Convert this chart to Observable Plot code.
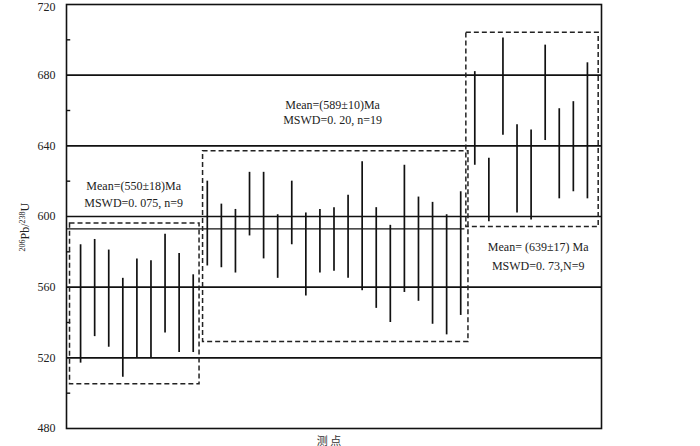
<!DOCTYPE html>
<html>
<head>
<meta charset="utf-8">
<script src="https://cdn.jsdelivr.net/npm/d3@7"></script>
<script src="https://cdn.jsdelivr.net/npm/@observablehq/plot@0.6"></script>
<style>
  html, body { margin: 0; padding: 0; background: #fff; }
  #chart { width: 700px; height: 446px; }
</style>
</head>
<body>
<div id="chart"></div>
<script>
// Analysis spots (1..37), grouped 9 / 19 / 9
const lows  = [517,532,526,509,520,520,534,523,523,
               572,571,568,589,576,565,584,555,568,569,565,558,548,540,557,552,539,533,544,
               629,597,646,602,598,643,610,614,610];
const highs = [584,587,581,565,576,575,590,579,567,
               620,607,604,625,625,601,620,602,604,605,612,631,605,595,629,611,608,601,614,
               682,633,701,652,649,697,661,665,687];

// y axis ticks
const majorTicks = [480, 520, 560, 600, 640, 680, 720];
const gridLines = [520, 560, 600, 640, 680];
const minorTicks = [500, 540, 580, 620, 660, 700];

// dashed group boxes
const boxX1 = [0.25, 9.7, 28.4];
const boxX2 = [9.45, 28.55, 37.8];
const boxY1 = [505, 529, 594];
const boxY2 = [596, 637, 704];

// line at ~593
const meanLineY = [593];
const meanLineX2 = 28.3;

// annotations
const annoText = ["Mean=(550±18)Ma", "MSWD=0. 075, n=9",
                  "Mean=(589±10)Ma", "MSWD=0. 20, n=19",
                  "Mean= (639±17) Ma", "MSWD=0. 73,N=9"];
const annoX = [4.77, 4.77, 18.9, 18.9, 33.5, 33.5];
const annoY = [617.3, 607.8, 663, 654.5, 582.5, 572];

const yLabelParts = ["206", "Pb/", "238", "U"];
const xLabel = "测 点";

const bars = lows.map((lo, k) => ({i: k + 1, lo, hi: highs[k]}));
const boxes = boxX1.map((x1, k) => ({x1, x2: boxX2[k], y1: boxY1[k], y2: boxY2[k]}));
const annos = annoText.map((t, k) => ({t, x: annoX[k], y: annoY[k]}));
const tickData = majorTicks.map(v => ({v, dy: v === 720 ? 3 : 0}));

const serif = "'Liberation Serif', 'Times New Roman', serif";

const chart = Plot.plot({
  width: 700,
  height: 446,
  marginLeft: 66,
  marginRight: 99,
  marginTop: 4,
  marginBottom: 18,
  style: {fontFamily: serif, fontSize: "12px", color: "#222", background: "#fff"},
  x: {domain: [0, 38], axis: null},
  y: {domain: [480, 720], axis: null},
  marks: [
    Plot.ruleY(gridLines, {stroke: "#111", strokeWidth: 1.6}),
    Plot.ruleY(meanLineY, {x1: 0, x2: meanLineX2, stroke: "#111", strokeWidth: 1.4}),
    Plot.ruleY(minorTicks, {x1: 0, x2: 0.3, stroke: "#111", strokeWidth: 1.4}),
    Plot.ruleX(bars, {x: "i", y1: "lo", y2: "hi", stroke: "#111", strokeWidth: 1.7}),
    Plot.rect(boxes, {x1: "x1", x2: "x2", y1: "y1", y2: "y2", fill: "none",
      stroke: "#222", strokeWidth: 1.5, strokeDasharray: "5,3"}),
    Plot.frame({stroke: "#111", strokeWidth: 1.6}),
    Plot.text(tickData.filter(d => d.dy === 0), {x: 0, y: "v", text: d => String(d.v), dx: -11,
      textAnchor: "end", fontSize: 12, fontFamily: serif, fill: "#222"}),
    Plot.text(tickData.filter(d => d.dy !== 0), {x: 0, y: "v", text: d => String(d.v), dx: -11, dy: 3,
      textAnchor: "end", fontSize: 12, fontFamily: serif, fill: "#222"}),
    Plot.text(annos, {x: "x", y: "y", text: "t", fontSize: 12, fontFamily: serif, fill: "#222"}),
    Plot.text([yLabelParts.join("")], {x: 0, y: 594, dx: -41, rotate: -90, fontSize: 12,
      fontFamily: serif, fill: "#222", className: "ylab"}),
    Plot.text([xLabel], {frameAnchor: "bottom", dy: 16, dx: -5, fontSize: 11,
      fontFamily: "'Noto Sans CJK SC', sans-serif", fill: "#333"})
  ]
});

// superscript isotope numbers in the y label
const t = d3.select(chart).select(".ylab text");
t.text(null);
t.append("tspan").attr("font-size", 8).attr("dy", -4).text(yLabelParts[0]);
t.append("tspan").attr("font-size", 12).attr("dy", 4).text(yLabelParts[1]);
t.append("tspan").attr("font-size", 8).attr("dy", -4).text(yLabelParts[2]);
t.append("tspan").attr("font-size", 12).attr("dy", 4).text(yLabelParts[3]);

document.getElementById("chart").appendChild(chart);
</script>
</body>
</html>
